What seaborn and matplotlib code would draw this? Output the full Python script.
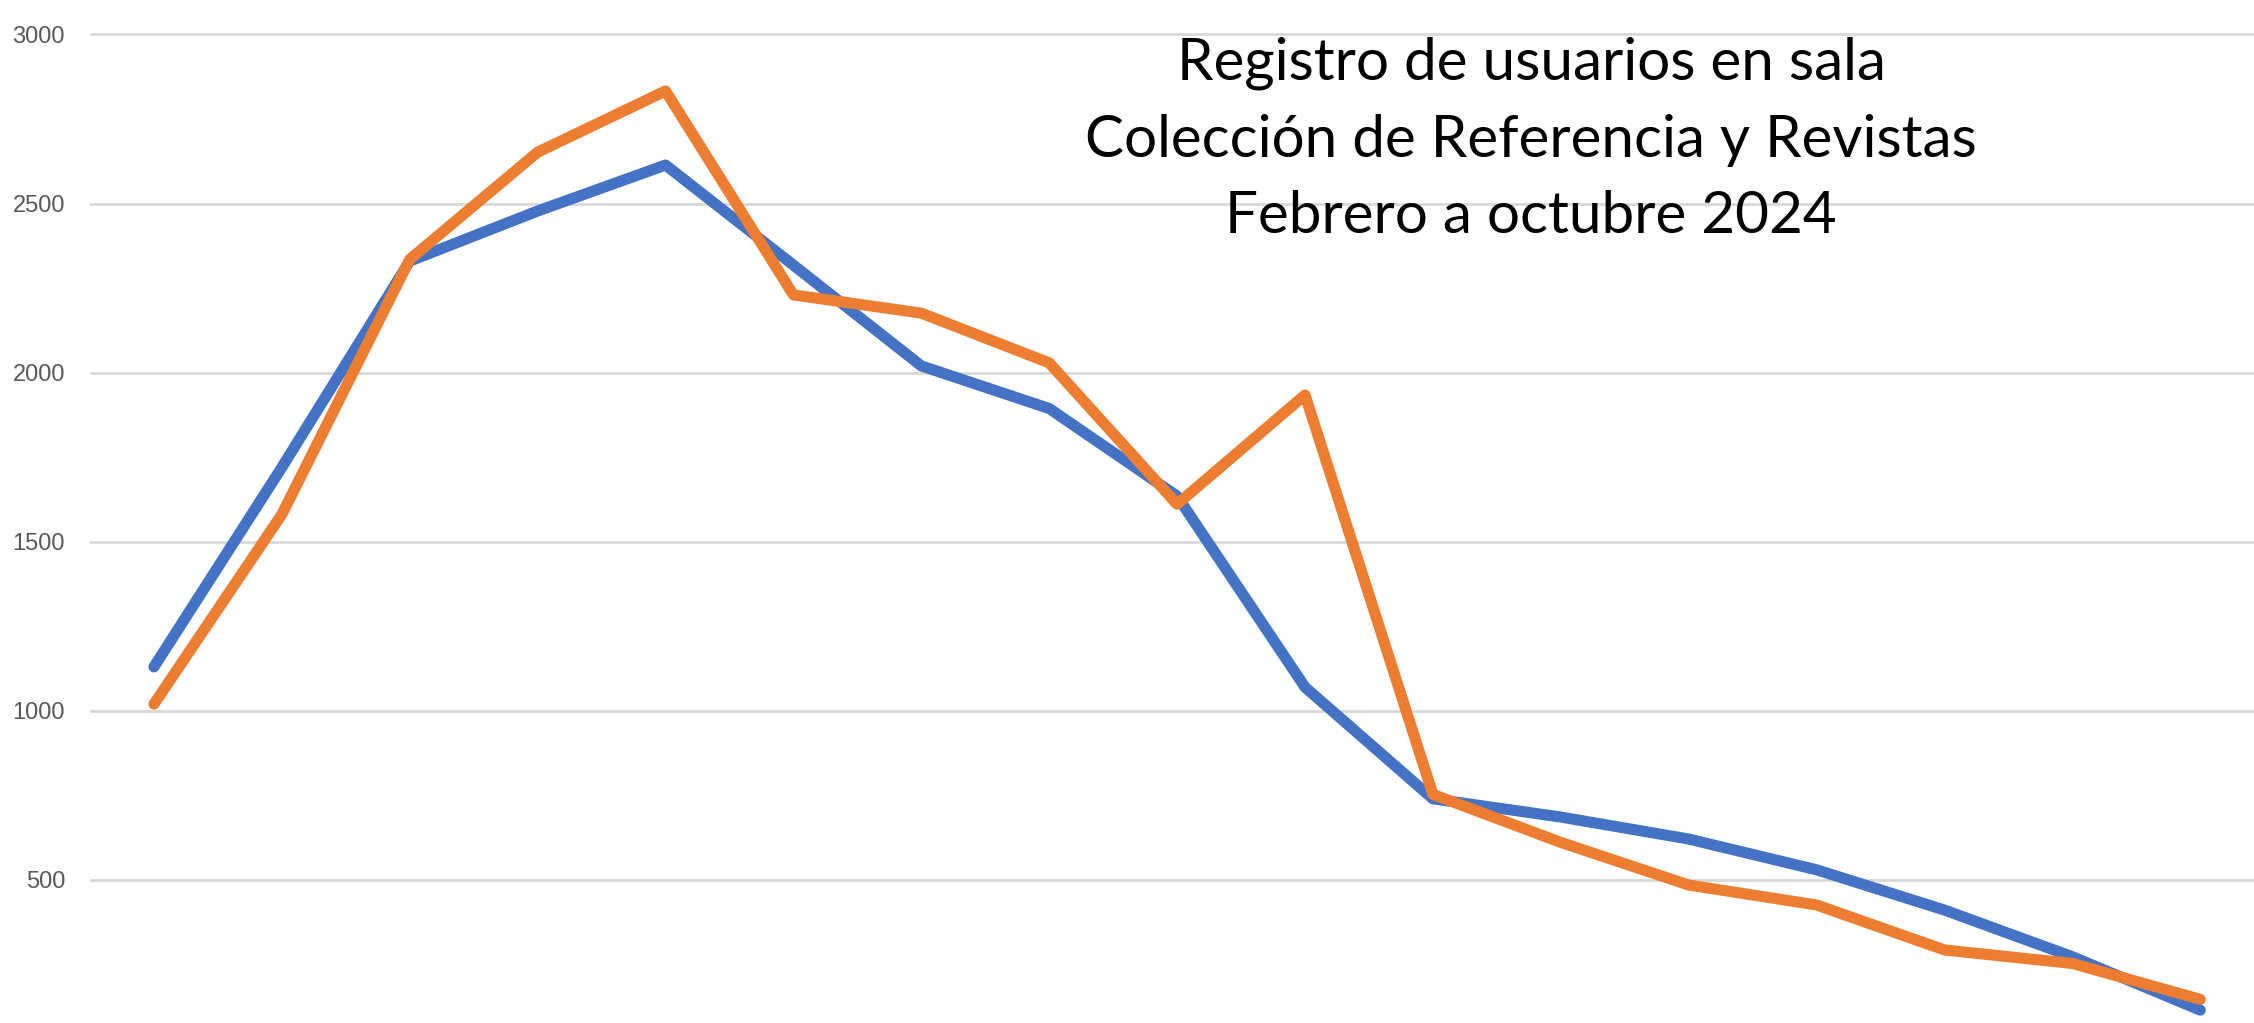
import numpy as np
import pandas as pd
import matplotlib
matplotlib.use("Agg")
import matplotlib.pyplot as plt
import seaborn as sns

# -------------------------
# Data (17 registros, feb-oct 2024)
# -------------------------
periodo = list(range(1, 18))
serie_azul = [1130, 1720, 2330, 2478, 2614, 2318, 2020, 1894, 1635, 1070,
              740, 686, 621, 530, 411, 273, 115]
serie_naranja = [1020, 1581, 2335, 2652, 2833, 2230, 2176, 2029, 1611, 1934,
                 753, 611, 485, 426, 293, 253, 147]
y_ticks = [500, 1000, 1500, 2000, 2500, 3000]
titulo = ("Registro de usuarios en sala\n"
          "Colección de Referencia y Revistas\n"
          "Febrero a octubre 2024")

AZUL = "#4472C4"
NARANJA = "#ED7D31"

df = pd.DataFrame({
    "periodo": periodo * 2,
    "usuarios": serie_azul + serie_naranja,
    "serie": ["azul"] * len(periodo) + ["naranja"] * len(periodo),
})

sns.set_theme(style="white")
plt.rcParams["font.family"] = ["Lato", "DejaVu Sans"]

fig = plt.figure(figsize=(22.54, 10.23), dpi=100)
ax = fig.add_axes([90 / 2254, 0.0, 1 - 90 / 2254, 1.0])

sns.lineplot(data=df, x="periodo", y="usuarios", hue="serie",
             palette={"azul": AZUL, "naranja": NARANJA},
             linewidth=8, legend=False, ax=ax)

ax.set_xlim(0.5, 17.42)
ax.set_ylim(77, 3102)
ax.set_yticks(y_ticks)
ax.set_yticklabels([str(t) for t in y_ticks],
                   family=["Liberation Sans", "DejaVu Sans"],
                   fontsize=17, color="#595959")
ax.set_xticks([])
ax.set_xlabel("")
ax.set_ylabel("")
ax.tick_params(axis="y", length=0, pad=18)
ax.grid(axis="y", color="#D9D9D9", linewidth=2)
ax.set_axisbelow(True)
for s in ax.spines.values():
    s.set_visible(False)

fig.text(1531 / 2254, 1 - 140 / 1023, titulo, ha="center", va="center",
         fontsize=42, color="black", linespacing=1.55)

fig.savefig("out.png", dpi=100)
